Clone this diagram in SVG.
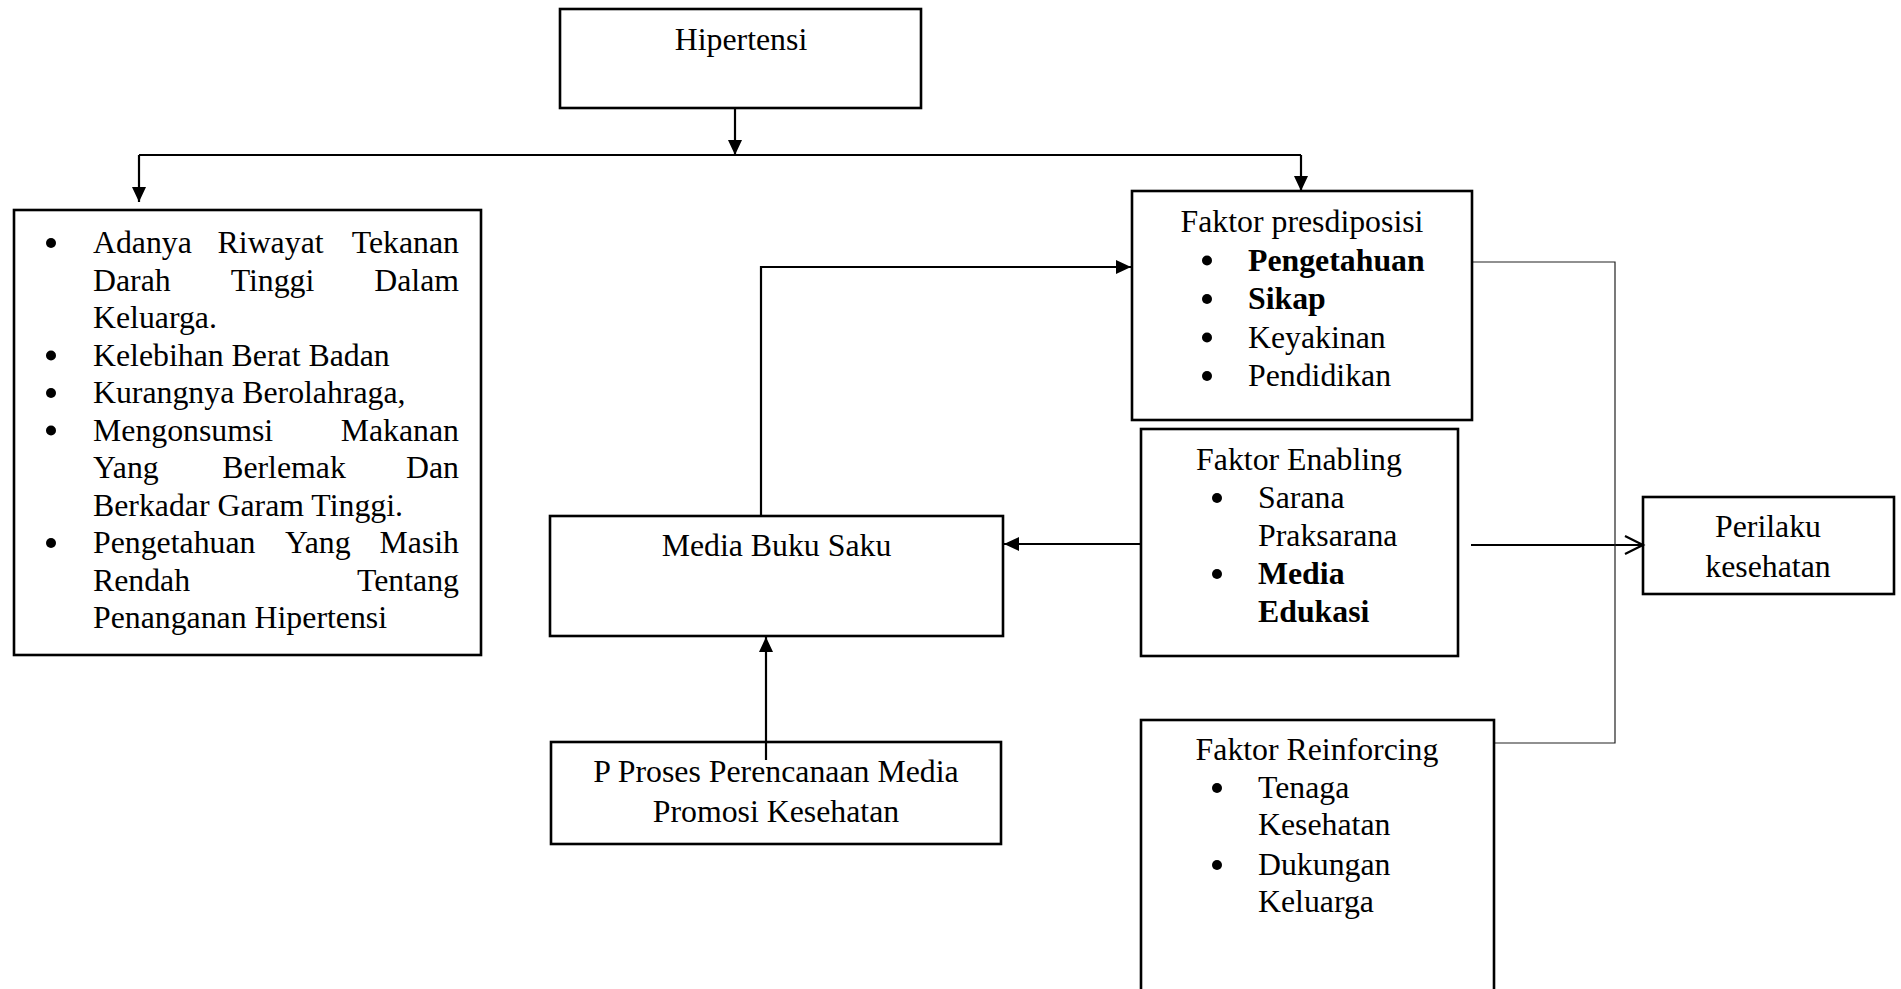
<svg xmlns="http://www.w3.org/2000/svg" width="1901" height="989" viewBox="0 0 1901 989">
<style>
text{font-family:"Liberation Serif","Times New Roman",serif;font-size:31.8px;fill:#000}
.b{font-weight:bold}
.m{text-anchor:middle}
.e{text-anchor:end}
.box{fill:none;stroke:#000;stroke-width:2.6}
.c{fill:none;stroke:#000;stroke-width:2.2}
.thin{fill:none;stroke:#222;stroke-width:1.2}
.dot{fill:#000}
</style>
<defs>
<marker id="ah" markerUnits="userSpaceOnUse" markerWidth="18" markerHeight="16" refX="15" refY="7" orient="auto">
<path d="M0,0 L15,7 L0,14 z" fill="#000"/>
</marker>
<marker id="oa" markerUnits="userSpaceOnUse" markerWidth="22" markerHeight="22" refX="19" refY="10" orient="auto">
<path d="M1,1 L19,10 L1,19" fill="none" stroke="#000" stroke-width="2.2"/>
</marker>
</defs>
<rect width="1901" height="989" fill="#fff"/>

<g id="connectors">
<line class="c" x1="735" y1="108" x2="735" y2="155" marker-end="url(#ah)"/>
<line class="c" x1="139" y1="155" x2="1301" y2="155" stroke-width="1.6"/>
<line class="c" x1="139" y1="155" x2="139" y2="202" marker-end="url(#ah)"/>
<line class="c" x1="1301" y1="155" x2="1301" y2="191" marker-end="url(#ah)"/>
<path class="c" d="M761,516 V267 H1131" marker-end="url(#ah)"/>
<line class="c" x1="1141" y1="544" x2="1004" y2="544" marker-end="url(#ah)"/>
<line class="c" x1="766" y1="760" x2="766" y2="637" marker-end="url(#ah)"/>
<line class="c" x1="1471" y1="545" x2="1643" y2="545" marker-end="url(#oa)"/>
<path class="thin" d="M1473,262 H1615 V743 H1494"/>
</g>

<g id="hipertensi">
<rect class="box" x="560" y="9" width="361" height="99"/>
<text class="m" x="741" y="50">Hipertensi</text>
</g>

<g id="faktor-risiko">
<rect class="box" x="14" y="210" width="467" height="445"/>
<circle class="dot" cx="51" cy="243" r="5"/>
<text x="93" y="253">Adanya</text><text class="m" x="270.6" y="253">Riwayat</text><text class="e" x="459" y="253">Tekanan</text>
<text x="93" y="290.5">Darah</text><text class="m" x="272.5" y="290.5">Tinggi</text><text class="e" x="459" y="290.5">Dalam</text>
<text x="93" y="328">Keluarga.</text>
<circle class="dot" cx="51" cy="355.5" r="5"/>
<text x="93" y="365.5">Kelebihan Berat Badan</text>
<circle class="dot" cx="51" cy="393" r="5"/>
<text x="93" y="403">Kurangnya Berolahraga,</text>
<circle class="dot" cx="51" cy="430.5" r="5"/>
<text x="93" y="440.5">Mengonsumsi</text><text class="e" x="459" y="440.5">Makanan</text>
<text x="93" y="478">Yang</text><text class="m" x="284" y="478">Berlemak</text><text class="e" x="459" y="478">Dan</text>
<text x="93" y="515.5">Berkadar Garam Tinggi.</text>
<circle class="dot" cx="51" cy="543" r="5"/>
<text x="93" y="553">Pengetahuan</text><text class="m" x="317.8" y="553">Yang</text><text class="e" x="459" y="553">Masih</text>
<text x="93" y="590.5">Rendah</text><text class="e" x="459" y="590.5">Tentang</text>
<text x="93" y="628">Penanganan Hipertensi</text>
</g>

<g id="faktor-presdiposisi">
<rect class="box" x="1132" y="191" width="340" height="229"/>
<text class="m" x="1302" y="232">Faktor presdiposisi</text>
<circle class="dot" cx="1207" cy="260.5" r="5"/>
<text class="b" x="1248" y="270.5">Pengetahuan</text>
<circle class="dot" cx="1207" cy="299" r="5"/>
<text class="b" x="1248" y="309">Sikap</text>
<circle class="dot" cx="1207" cy="337.5" r="5"/>
<text x="1248" y="347.5">Keyakinan</text>
<circle class="dot" cx="1207" cy="376" r="5"/>
<text x="1248" y="386">Pendidikan</text>
</g>

<g id="faktor-enabling">
<rect class="box" x="1141" y="429" width="317" height="227"/>
<text class="m" x="1299" y="470">Faktor Enabling</text>
<circle class="dot" cx="1217" cy="498" r="5"/>
<text x="1258" y="508">Sarana</text>
<text x="1258" y="545.5">Praksarana</text>
<circle class="dot" cx="1217" cy="574" r="5"/>
<text class="b" x="1258" y="584">Media</text>
<text class="b" x="1258" y="622">Edukasi</text>
</g>

<g id="media-buku-saku">
<rect class="box" x="550" y="516" width="453" height="120"/>
<text class="m" x="776.5" y="556">Media Buku Saku</text>
</g>

<g id="proses-perencanaan">
<rect class="box" x="551" y="742" width="450" height="102"/>
<text class="m" x="776" y="782">P Proses Perencanaan Media</text>
<text class="m" x="776" y="822">Promosi Kesehatan</text>
</g>

<g id="perilaku">
<rect class="box" x="1643" y="497" width="251" height="97"/>
<text class="m" x="1768" y="537">Perilaku</text>
<text class="m" x="1768" y="577">kesehatan</text>
</g>

<g id="faktor-reinforcing">
<rect class="box" x="1141" y="720" width="353" height="290"/>
<text class="m" x="1317" y="760">Faktor Reinforcing</text>
<circle class="dot" cx="1217" cy="788" r="5"/>
<text x="1258" y="798">Tenaga</text>
<text x="1258" y="835">Kesehatan</text>
<circle class="dot" cx="1217" cy="865" r="5"/>
<text x="1258" y="875">Dukungan</text>
<text x="1258" y="912">Keluarga</text>
</g>
</svg>
